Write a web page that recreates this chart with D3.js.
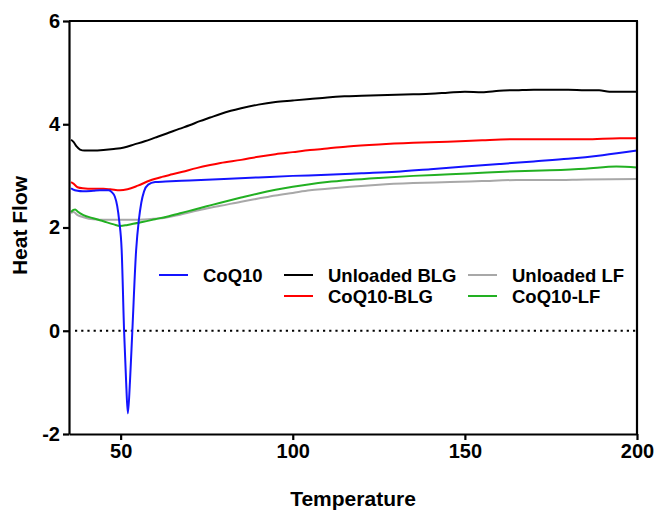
<!DOCTYPE html>
<html>
<head>
<meta charset="utf-8">
<script src="https://cdn.jsdelivr.net/npm/d3@7"></script>
<style>
  html, body { margin: 0; padding: 0; background: #fff; }
  svg { display: block; }
  text { font-family: "Liberation Sans", Arial, sans-serif; font-weight: bold; }
</style>
</head>
<body>
<svg id="chart" width="656" height="513"></svg>
<script>
// ---- data ----
const xTicks = [50, 100, 150, 200];
const yTicks = [-2, 0, 2, 4, 6];

const seriesNames = ["CoQ10", "Unloaded BLG", "Unloaded LF", "CoQ10-BLG", "CoQ10-LF"];
const seriesColors = ["#1414ff", "#000000", "#a8a8a8", "#ff0000", "#22b022"];

const coq10T = [35.6, 36.1, 37.5, 39, 42, 44, 46.5, 47.5, 48.3, 49.0, 49.6, 50.3, 51.0, 51.6, 52.1, 52.7, 53.4, 54.5, 55.3, 56.0, 56.8, 58, 60, 63, 70, 80, 90, 100, 110, 120, 130, 140, 150, 160, 170, 180, 190, 200];
const coq10V = [2.76, 2.74, 2.71, 2.70, 2.71, 2.72, 2.72, 2.68, 2.60, 2.42, 2.12, 1.56, 0.0, -1.0, -1.6, -1.0, 0.0, 1.56, 2.15, 2.48, 2.70, 2.83, 2.88, 2.89, 2.91, 2.94, 2.97, 3.00, 3.02, 3.05, 3.08, 3.13, 3.18, 3.23, 3.28, 3.33, 3.40, 3.49];

const blgT = [35.6, 36.3, 37.2, 38.2, 39.5, 42, 45, 48, 51, 54, 57, 60, 63.4, 67, 70, 73, 76, 79, 82, 85, 90, 95, 100, 105, 110, 115, 120, 125, 130, 135, 140, 145, 150, 155, 160, 165, 170, 175, 180, 185, 189, 192, 195, 200];
const blgV = [3.70, 3.66, 3.57, 3.51, 3.49, 3.49, 3.50, 3.52, 3.55, 3.61, 3.67, 3.74, 3.82, 3.91, 3.98, 4.06, 4.13, 4.20, 4.26, 4.31, 4.38, 4.43, 4.46, 4.49, 4.52, 4.54, 4.55, 4.56, 4.57, 4.58, 4.59, 4.61, 4.63, 4.62, 4.65, 4.66, 4.67, 4.67, 4.67, 4.66, 4.66, 4.63, 4.63, 4.63];

const lfT = [35.6, 36.3, 37.5, 39.2, 42, 46, 50, 55, 60, 63, 66, 71, 75, 79, 85, 90, 95, 100, 105, 110, 116.6, 125, 135, 145.7, 155, 165, 175, 185, 200];
const lfV = [2.28, 2.30, 2.24, 2.20, 2.16, 2.15, 2.15, 2.15, 2.17, 2.19, 2.23, 2.31, 2.37, 2.42, 2.50, 2.56, 2.62, 2.67, 2.72, 2.75, 2.79, 2.83, 2.86, 2.88, 2.90, 2.92, 2.92, 2.93, 2.94];

const coqBlgT = [35.6, 36.3, 37.5, 39, 42, 45, 47, 49.8, 52, 55, 58.5, 62, 65, 68, 72, 76, 79, 85, 90, 95, 100, 105, 110, 116, 125, 135, 145, 155, 165, 175, 185, 195, 200];
const coqBlgV = [2.88, 2.85, 2.78, 2.76, 2.75, 2.75, 2.74, 2.72, 2.74, 2.81, 2.91, 2.98, 3.03, 3.08, 3.15, 3.21, 3.25, 3.31, 3.37, 3.42, 3.46, 3.50, 3.53, 3.57, 3.61, 3.64, 3.66, 3.69, 3.71, 3.71, 3.71, 3.73, 3.73];

const coqLfT = [35.6, 36.3, 36.8, 37.5, 39.2, 42, 45, 48, 49.8, 52, 56.6, 60, 63.4, 67, 71, 75, 79, 85, 90, 95, 100, 105, 110, 116.6, 125, 135, 145.7, 155, 165, 174.7, 185, 194, 200];
const coqLfV = [2.30, 2.34, 2.35, 2.31, 2.24, 2.18, 2.12, 2.06, 2.03, 2.05, 2.11, 2.16, 2.21, 2.27, 2.34, 2.41, 2.48, 2.58, 2.66, 2.73, 2.79, 2.84, 2.88, 2.92, 2.96, 3.00, 3.03, 3.06, 3.09, 3.11, 3.14, 3.18, 3.16];

const seriesT = [coq10T, blgT, lfT, coqBlgT, coqLfT];
const seriesV = [coq10V, blgV, lfV, coqBlgV, coqLfV];

// ---- layout ----
const L = 69, R = 637, T = 21, B = 434;
const svg = d3.select("#chart");
const x = d3.scaleLinear().domain([35, 200]).range([L, R]);
const y = d3.scaleLinear().domain([-2, 6]).range([B, T]);

// zero dotted line
svg.append("line")
  .attr("x1", x(35) + 6).attr("x2", R)
  .attr("y1", y(0)).attr("y2", y(0))
  .attr("stroke", "#000").attr("stroke-width", 2.2)
  .attr("stroke-dasharray", "2.2,4");

// series
const line = d3.line().x(d => x(d[0])).y(d => y(d[1])).curve(d3.curveMonotoneX);
const drawOrder = [1, 2, 4, 3, 0];
drawOrder.forEach(i => {
  const pts = seriesT[i].map((t, k) => [t, seriesV[i][k]]);
  svg.append("path").datum(pts)
    .attr("d", line)
    .attr("fill", "none")
    .attr("stroke", seriesColors[i])
    .attr("stroke-width", 2)
    .attr("stroke-linejoin", "round");
});

// frame top / right
svg.append("line").attr("x1", L).attr("x2", R + 1).attr("y1", T).attr("y2", T)
  .attr("stroke", "#000").attr("stroke-width", 2.2);
svg.append("line").attr("x1", R).attr("x2", R).attr("y1", T).attr("y2", B)
  .attr("stroke", "#000").attr("stroke-width", 2.2);

// axes
const fmt = d => String(d);
const yAxis = svg.append("g").attr("transform", `translate(${L},0)`)
  .call(d3.axisLeft(y).tickValues(yTicks).tickSize(6).tickPadding(3).tickSizeOuter(0).tickFormat(fmt));
const xAxis = svg.append("g").attr("transform", `translate(0,${B})`)
  .call(d3.axisBottom(x).tickValues(xTicks).tickSize(6).tickPadding(4).tickSizeOuter(0).tickFormat(fmt));
[yAxis, xAxis].forEach(g => {
  g.select(".domain").attr("stroke", "#000").attr("stroke-width", 2.2);
  g.selectAll(".tick line").attr("stroke", "#000").attr("stroke-width", 2.2);
  g.selectAll(".tick text").attr("fill", "#000")
    .style("font-family", '"Liberation Sans", Arial, sans-serif')
    .style("font-weight", "bold").style("font-size", "20px");
});

// axis titles
svg.append("text")
  .attr("transform", `translate(27,${(T + B) / 2 - 2}) rotate(-90)`)
  .attr("text-anchor", "middle")
  .style("font-size", "21px")
  .text("Heat Flow");
svg.append("text")
  .attr("x", (L + R) / 2).attr("y", 506)
  .attr("text-anchor", "middle")
  .style("font-size", "21px")
  .text("Temperature");

// legend
const legendCols = [159, 284, 468];
const legendRows = [275, 296];
const legendPos = [[0, 0], [1, 0], [2, 0], [1, 1], [2, 1]];
seriesNames.forEach((name, i) => {
  const cx = legendCols[legendPos[i][0]], cy = legendRows[legendPos[i][1]];
  svg.append("line").attr("x1", cx).attr("x2", cx + 29).attr("y1", cy).attr("y2", cy)
    .attr("stroke", seriesColors[i]).attr("stroke-width", 2);
  svg.append("text").attr("x", cx + 44).attr("y", cy + 6.5)
    .style("font-size", "18.5px").text(name);
});
</script>
</body>
</html>
